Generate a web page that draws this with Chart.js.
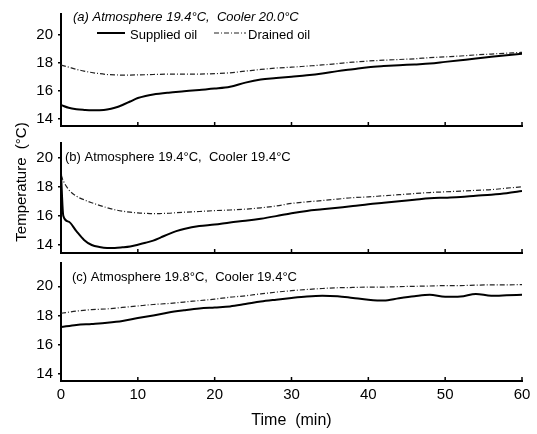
<!DOCTYPE html>
<html lang="en">
  <head>
    <meta charset="UTF-8" />
    <title>Oil temperature</title>
    <script src="https://cdn.jsdelivr.net/npm/chart.js"></script>
    <style>
      body { margin: 0; background: #fff; }
      #wrap { position: relative; width: 537px; height: 434px; }
      #wrap canvas { position: absolute; left: 0; top: 0; }
    </style>
  </head>
  <body>
    <div id="wrap">
      <canvas id="panelA" width="537" height="434"></canvas>
      <canvas id="panelB" width="537" height="434"></canvas>
      <canvas id="panelC" width="537" height="434"></canvas>
    </div>
    <script>
      // time in minutes, temperatures in degC
      const timeTicks = [0, 10, 20, 30, 40, 50, 60];
      const tempTicks = [14, 16, 18, 20];

      const timeA = [0, 1, 2, 3, 4, 5, 6, 7, 8, 9, 10, 11, 12, 14, 16, 18, 20, 22, 24, 26, 28, 30, 32, 34, 36, 38, 40, 42, 44, 46, 48, 50, 52, 54, 56, 58, 60];
      const suppliedA = [15.0, 14.8, 14.7, 14.65, 14.62, 14.63, 14.68, 14.8, 15.0, 15.25, 15.5, 15.65, 15.75, 15.88, 15.98, 16.08, 16.17, 16.3, 16.6, 16.82, 16.92, 17.02, 17.12, 17.25, 17.42, 17.56, 17.7, 17.78, 17.84, 17.9, 17.96, 18.08, 18.2, 18.32, 18.45, 18.56, 18.66];
      const drainedA = [17.85, 17.7, 17.55, 17.42, 17.32, 17.24, 17.18, 17.15, 17.14, 17.14, 17.15, 17.16, 17.18, 17.2, 17.2, 17.21, 17.24, 17.3, 17.42, 17.54, 17.64, 17.7, 17.78, 17.86, 17.96, 18.06, 18.14, 18.2, 18.25, 18.3, 18.38, 18.44, 18.5, 18.58, 18.64, 18.7, 18.76];

      const timeB = [0, 0.3, 1, 2, 3, 4, 5, 6, 7, 8, 9, 10, 11, 12, 13, 14, 15, 16, 18, 20, 22, 24, 26, 28, 30, 32, 34, 36, 38, 40, 42, 44, 46, 48, 50, 52, 54, 56, 58, 60];
      const suppliedB = [18.9, 16.0, 15.6, 14.95, 14.35, 14.0, 13.86, 13.8, 13.8, 13.84, 13.9, 14.02, 14.15, 14.3, 14.52, 14.75, 14.95, 15.1, 15.3, 15.4, 15.55, 15.66, 15.8, 15.98, 16.18, 16.34, 16.45, 16.56, 16.67, 16.8, 16.9, 17.0, 17.1, 17.2, 17.25, 17.3, 17.38, 17.45, 17.55, 17.7];
      const drainedB = [18.8, 18.4, 17.8, 17.35, 17.1, 16.9, 16.72, 16.56, 16.42, 16.32, 16.25, 16.2, 16.17, 16.15, 16.16, 16.18, 16.22, 16.25, 16.3, 16.36, 16.4, 16.46, 16.55, 16.68, 16.85, 16.96, 17.05, 17.15, 17.25, 17.3, 17.38, 17.45, 17.53, 17.6, 17.65, 17.7, 17.75, 17.8, 17.9, 18.0];

      const timeC = [0, 2, 4, 6, 8, 10, 12, 14, 16, 18, 20, 22, 24, 26, 28, 30, 32, 34, 36, 38, 40, 42, 44, 46, 48, 50, 52, 54, 56, 58, 60];
      const suppliedC = [17.2, 17.35, 17.42, 17.5, 17.62, 17.82, 18.0, 18.2, 18.35, 18.48, 18.55, 18.62, 18.78, 18.95, 19.08, 19.2, 19.3, 19.35, 19.32, 19.2, 19.08, 19.02, 19.18, 19.32, 19.42, 19.28, 19.3, 19.48, 19.35, 19.38, 19.42];
      const drainedC = [18.15, 18.3, 18.4, 18.45, 18.55, 18.65, 18.75, 18.82, 18.92, 19.02, 19.12, 19.25, 19.35, 19.48, 19.6, 19.7, 19.78, 19.85, 19.9, 19.92, 19.95, 19.95, 19.98, 20.0, 20.02, 20.05, 20.05, 20.08, 20.1, 20.1, 20.12];

      const FONT = '"Liberation Sans", Arial, sans-serif';

      // captions, inner tick marks, legend and shared y title
      const panelDecor = {
        id: "panelDecor",
        afterDraw(chart, args, opts) {
          const ctx = chart.ctx;
          const area = chart.chartArea;
          const xs = chart.scales.x;
          ctx.save();
          ctx.strokeStyle = "#000";
          ctx.fillStyle = "#000";
          ctx.lineWidth = 1.5;
          timeTicks.slice(1).forEach((v) => {
            const px = xs.getPixelForValue(v);
            ctx.beginPath();
            ctx.moveTo(px, area.bottom);
            ctx.lineTo(px, area.bottom - 4);
            ctx.stroke();
          });

          ctx.font = (opts.italic ? "italic " : "") + "13px " + FONT;
          ctx.textBaseline = "middle";
          ctx.textAlign = "left";
          ctx.fillText(opts.caption, opts.captionX, opts.captionY);

          if (opts.legend) {
            ctx.font = "13px " + FONT;
            const ds = chart.data.datasets;
            const spots = [
              { x0: 97, x1: 125, tx: 130 },
              { x0: 214, x1: 246, tx: 248 },
            ];
            ds.forEach((d, i) => {
              const s = spots[i];
              ctx.save();
              ctx.lineWidth = d.borderWidth;
              ctx.strokeStyle = d.borderColor;
              ctx.setLineDash(d.borderDash || []);
              ctx.beginPath();
              ctx.moveTo(s.x0, 33);
              ctx.lineTo(s.x1, 33);
              ctx.stroke();
              ctx.restore();
              ctx.fillText(d.label, s.tx, 35);
            });
          }

          if (opts.yTitle) {
            ctx.font = "15px " + FONT;
            ctx.textAlign = "center";
            ctx.translate(22, 182);
            ctx.rotate(-Math.PI / 2);
            ctx.fillText(opts.yTitle, 0, 0);
          }
          ctx.restore();
        },
      };

      const makePanel = (id, times, supplied, drained, top, bottom, yMin, yMax, deco, showTime) => {
        const pts = (vals) => vals.map((v, i) => ({ x: times[i], y: v }));
        return new Chart(document.getElementById(id), {
          type: "line",
          data: {
            datasets: [
              {
                label: "Supplied oil",
                data: pts(supplied),
                borderColor: "#000",
                borderWidth: 2,
                pointRadius: 0,
                cubicInterpolationMode: "monotone",
              },
              {
                label: "Drained oil",
                data: pts(drained),
                borderColor: "#222",
                borderWidth: 1.2,
                borderDash: [5, 2, 1, 2],
                pointRadius: 0,
                cubicInterpolationMode: "monotone",
              },
            ],
          },
          options: {
            responsive: false,
            animation: false,
            layout: {
              padding: { top: top, bottom: showTime ? 0 : 434 - bottom, left: 0, right: 15 },
            },
            plugins: {
              legend: { display: false },
              tooltip: { enabled: false },
              panelDecor: deco,
            },
            scales: {
              x: {
                type: "linear",
                min: 0,
                max: 60,
                afterBuildTicks: (s) => {
                  s.ticks = timeTicks.map((v) => ({ value: v }));
                },
                afterFit: (s) => {
                  s.height = showTime ? 434 - bottom : 0;
                },
                grid: { display: false, drawTicks: false },
                border: { color: "#000", width: 2 },
                ticks: {
                  display: showTime,
                  color: "#000",
                  padding: 5,
                  maxRotation: 0,
                  font: { family: FONT, size: 15 },
                },
                title: {
                  display: showTime,
                  text: "Time  (min)",
                  color: "#000",
                  font: { family: FONT, size: 16 },
                  padding: { top: 0, bottom: 4 },
                },
              },
              y: {
                min: yMin,
                max: yMax,
                afterBuildTicks: (s) => {
                  s.ticks = tempTicks.map((v) => ({ value: v }));
                },
                afterFit: (s) => {
                  s.width = 61;
                },
                grid: { drawOnChartArea: false, tickLength: 3, color: "#000", lineWidth: 1.5 },
                border: { color: "#000", width: 2 },
                ticks: {
                  color: "#000",
                  padding: 5,
                  font: { family: FONT, size: 15 },
                },
              },
            },
          },
          plugins: [panelDecor],
        });
      };

      makePanel("panelA", timeA, suppliedA, drainedA, 7, 126, 13.5, 21.5, {
        caption: "(a) Atmosphere 19.4°C,  Cooler 20.0°C",
        italic: true,
        captionX: 73,
        captionY: 17,
        legend: true,
      }, false);

      makePanel("panelB", timeB, suppliedB, drainedB, 143, 253, 13.45, 21.0, {
        caption: "(b) Atmosphere 19.4°C,  Cooler 19.4°C",
        captionX: 65,
        captionY: 157,
        yTitle: "Temperature  (°C)",
      }, false);

      makePanel("panelC", timeC, suppliedC, drainedC, 263, 381, 13.5, 21.6, {
        caption: "(c) Atmosphere 19.8°C,  Cooler 19.4°C",
        captionX: 72,
        captionY: 277,
      }, true);
    </script>
  </body>
</html>
